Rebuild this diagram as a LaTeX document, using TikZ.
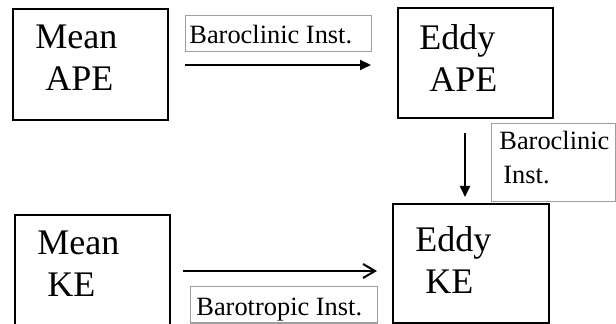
\documentclass[tikz,border=0pt]{standalone}
\usepackage{fontspec}
\setmainfont{Liberation Serif}
\usetikzlibrary{arrows.meta, positioning}

\begin{document}
\begin{tikzpicture}[x=0.5pt, y=-0.5pt,
  blk/.style={draw=black, line width=1pt, anchor=north west, inner sep=0pt},
  tag/.style={draw=black!38, line width=0.6pt, anchor=north west, inner sep=0pt},
  bigtxt/.style={anchor=north west, inner sep=0pt, align=left, font=\fontsize{18}{21}\selectfont},
  tagtxt/.style={anchor=north west, inner sep=0pt, align=left, font=\fontsize{13.2}{17}\selectfont}]
\useasboundingbox (0,0) rectangle (616,324);
\clip (0,0) rectangle (616,324);
% energy boxes
\node[blk, minimum width=77.5pt, minimum height=55.5pt] (mape) at (12,8) {};
\node[blk, minimum width=77.5pt, minimum height=55pt] (eape) at (397,7) {};
\node[blk, minimum width=77.5pt, minimum height=70pt] (mke) at (14,214) {};
\node[blk, minimum width=78pt, minimum height=59.5pt] (eke) at (392,203) {};
\node[bigtxt] (mapeTxt) at (35,25) {Mean\\\hspace{5pt}APE};
\node[bigtxt] (eapeTxt) at (419,24) {Eddy\\\hspace{5pt}APE};
\node[bigtxt] (mkeTxt) at (37,231) {Mean\\\hspace{5pt}KE};
\node[bigtxt] (ekeTxt) at (415,226) {Eddy\\\hspace{5pt}KE};
% process labels
\node[tag, minimum width=93pt, minimum height=18pt] (bcTop) at (185,15) {};
\node[tag, minimum width=62pt, minimum height=39pt] (bcSide) at (491,123) {};
\node[tag, minimum width=93.5pt, minimum height=18.25pt] (btBot) at (190,286) {};
\node[tagtxt] (bcTopTxt) at (189,25) {Baroclinic Inst.};
\node[tagtxt] (bcSideTxt) at (499,131) {Baroclinic\\\hspace{2pt}Inst.};
\node[tagtxt] (btBotTxt) at (196,298) {Barotropic Inst.};
% arrows
\coordinate (a1s) at (185,65);
\coordinate (a1e) at (371,65);
\coordinate (a2s) at (465,133);
\coordinate (a2e) at (465,197);
\coordinate (a3s) at (183,271);
\coordinate (a3e) at (377,271);
\draw[line width=1pt, -{Triangle[length=5.5pt, width=5pt]}] (a1s) -- (a1e);
\draw[line width=1pt, -{Triangle[length=5.5pt, width=5pt]}] (a2s) -- (a2e);
\draw[line width=1pt, -{Straight Barb[length=6pt, width=7pt]}] (a3s) -- (a3e);
\end{tikzpicture}
\end{document}
